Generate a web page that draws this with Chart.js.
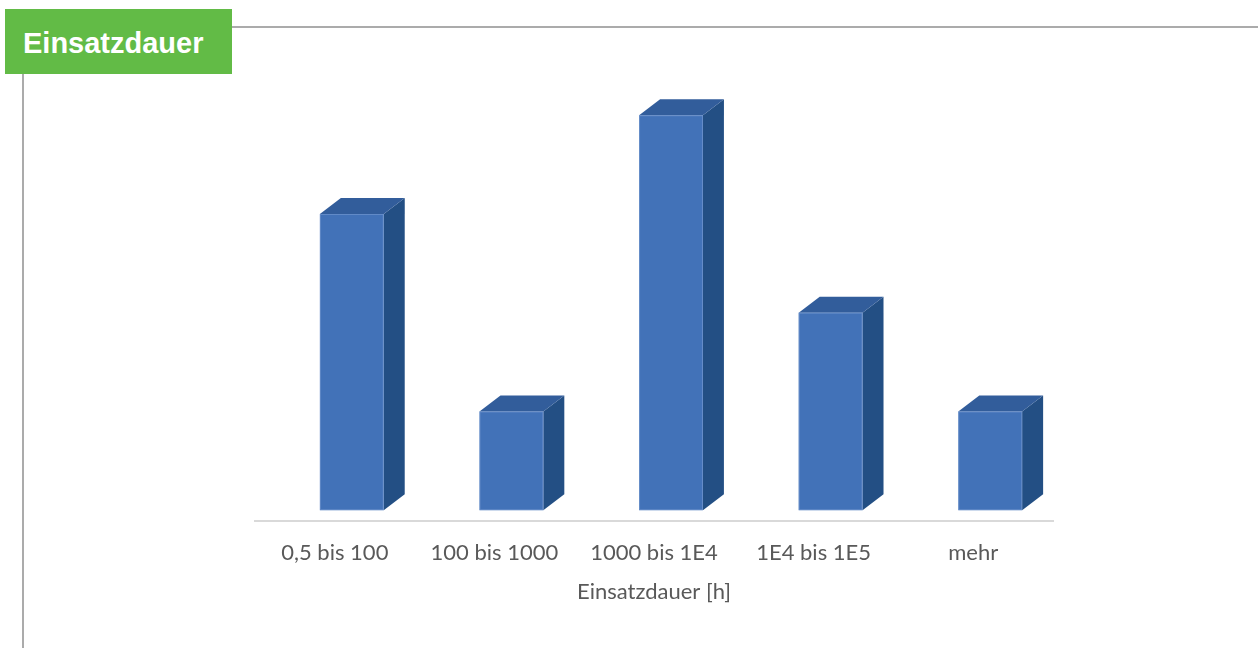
<!DOCTYPE html>
<html lang="de">
<head>
<meta charset="utf-8">
<title>Einsatzdauer</title>
<script src="https://cdn.jsdelivr.net/npm/chart.js@4/dist/chart.umd.min.js"></script>
<style>
  html, body { margin: 0; padding: 0; background: #ffffff; }
  body { width: 1258px; height: 648px; position: relative; overflow: hidden; }
  #chart { position: absolute; left: 0; top: 0; }
  .rule-h { position: absolute; left: 232px; top: 26px; width: 1026px; height: 2px; background: #ababab; }
  .rule-v { position: absolute; left: 22px; top: 74px; width: 2px; height: 574px; background: #ababab; }
  .badge {
    position: absolute; left: 5px; top: 9px; width: 227px; height: 65px;
    background: #62bb46; color: #ffffff;
    font: bold 29px "Liberation Sans", Arial, sans-serif;
    box-sizing: border-box; padding-left: 18px; padding-top: 3px; line-height: 62px;
  }
</style>
</head>
<body>
<div class="rule-h"></div>
<div class="rule-v"></div>
<canvas id="chart" width="1258" height="648"></canvas>
<div class="badge">Einsatzdauer</div>
<script>
// Einsatzdauer-Klassen (Stunden) und Anzahl je Klasse
const categories = ['0,5 bis 100', '100 bis 1000', '1000 bis 1E4', '1E4 bis 1E5', 'mehr'];
const counts = [3, 1, 4, 2, 1];
const axisTitle = 'Einsatzdauer [h]';

// Farben der Quaderflächen
const faceFront = '#4272b8';
const faceTop = '#325d9b';
const faceSide = '#234f84';

// Zeichnet jeden Balken als Quader; Position und Größe kommen aus den Bar-Elementen
const boxes3d = {
  id: 'boxes3d',
  afterDatasetsDraw(chart) {
    const ctx = chart.ctx;
    const meta = chart.getDatasetMeta(0);
    const shiftX = 17, shiftY = -11;   // Boden-Versatz der Frontfläche
    const depthX = 21, depthY = -16;   // Tiefe des Quaders
    ctx.save();
    meta.data.forEach(bar => {
      const p = bar.getProps(['x', 'y', 'base', 'width'], true);
      const l = p.x - p.width / 2 + shiftX;
      const r = p.x + p.width / 2 + shiftX;
      const t = p.y + shiftY;
      const b = p.base + shiftY;
      // Seitenfläche
      ctx.fillStyle = faceSide;
      ctx.beginPath();
      ctx.moveTo(r, t);
      ctx.lineTo(r + depthX, t + depthY);
      ctx.lineTo(r + depthX, b + depthY);
      ctx.lineTo(r, b);
      ctx.closePath();
      ctx.fill();
      // Deckfläche
      ctx.fillStyle = faceTop;
      ctx.beginPath();
      ctx.moveTo(l, t);
      ctx.lineTo(l + depthX, t + depthY);
      ctx.lineTo(r + depthX, t + depthY);
      ctx.lineTo(r, t);
      ctx.closePath();
      ctx.fill();
      // Frontfläche
      ctx.fillStyle = faceFront;
      ctx.fillRect(l, t, r - l, b - t);
      ctx.strokeStyle = 'rgba(120,155,210,0.6)';
      ctx.lineWidth = 1;
      ctx.strokeRect(l + 0.5, t + 0.5, r - l - 1, b - t - 1);
    });
    ctx.restore();
  }
};

new Chart(document.getElementById('chart'), {
  type: 'bar',
  data: {
    labels: categories,
    datasets: [{
      data: counts,
      backgroundColor: 'rgba(0,0,0,0)',
      borderWidth: 0,
      categoryPercentage: 1,
      barPercentage: 0.4
    }]
  },
  options: {
    responsive: false,
    devicePixelRatio: 1,
    animation: false,
    events: [],
    layout: { padding: { left: 255, right: 205, top: 27.5, bottom: 43 } },
    plugins: { legend: { display: false }, tooltip: { enabled: false } },
    scales: {
      x: {
        grid: { display: false, drawTicks: false },
        border: { display: true, color: '#d9d9d9', width: 2 },
        ticks: {
          color: '#595959',
          padding: 19,
          maxRotation: 0,
          font: { family: 'Lato, "Open Sans", sans-serif', size: 22 }
        },
        title: {
          display: true,
          text: axisTitle,
          color: '#595959',
          padding: { top: -7, bottom: 0 },
          font: { family: 'Lato, "Open Sans", sans-serif', size: 22 }
        }
      },
      y: {
        display: false,
        min: 0,
        max: 5
      }
    }
  },
  plugins: [boxes3d]
});
</script>
</body>
</html>
